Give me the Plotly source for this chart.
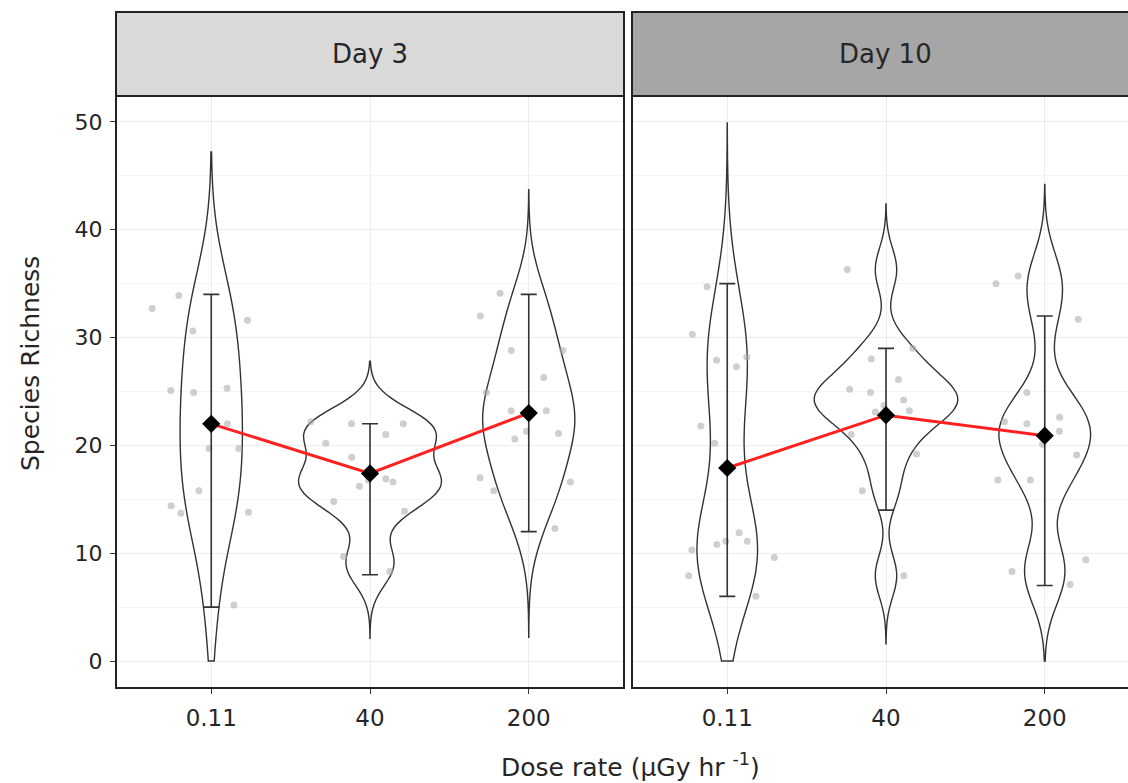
import plotly.graph_objects as go

# ---------------- data ----------------
doses = ["0.11", "40", "200"]
days = ["Day 3", "Day 10"]

# species richness observations per sample
day3_dose011 = [33.9, 32.7, 31.6, 30.6, 25.3, 25.1, 24.9, 22.0, 19.7, 19.7, 15.8, 14.4, 13.8, 13.7, 5.2]
day3_dose40 = [22.2, 22.0, 22.0, 21.0, 20.2, 18.9, 16.9, 16.8, 16.6, 16.2, 14.8, 13.9, 9.7, 8.3]
day3_dose200 = [34.1, 32.0, 28.8, 28.8, 26.3, 24.9, 23.2, 23.2, 21.3, 21.1, 20.6, 17.0, 16.6, 15.8, 12.3]
day10_dose011 = [34.7, 30.3, 28.2, 27.9, 27.3, 21.8, 20.2, 11.9, 11.1, 11.1, 10.8, 10.3, 9.6, 7.9, 6.0]
day10_dose40 = [36.3, 29.0, 28.0, 26.1, 25.2, 24.9, 24.2, 23.7, 23.2, 23.1, 21.0, 19.2, 15.8, 7.9]
day10_dose200 = [35.7, 35.0, 31.7, 24.9, 22.6, 22.2, 22.0, 21.3, 20.1, 19.1, 16.8, 16.8, 9.4, 8.3, 7.1]

# kernel bandwidths and vertical extents of the violins
day3_bandwidth = [5.2, 1.87, 3.2]
day10_bandwidth = [5.1, 2.0, 2.83]
day3_violin_low = [0.0, 2.1, 2.2]
day3_violin_high = [47.2, 27.8, 43.7]
day10_violin_low = [0.0, 1.6, 0.0]
day10_violin_high = [49.9, 42.4, 44.2]

# summary: mean with lower / upper bar
day3_mean = [22.0, 17.4, 23.0]
day3_lower = [5.0, 8.0, 12.0]
day3_upper = [34.0, 22.0, 34.0]
day10_mean = [17.9, 22.8, 20.9]
day10_lower = [6.0, 14.0, 7.0]
day10_upper = [35.0, 29.0, 32.0]

y_ticks = [0, 10, 20, 30, 40, 50]

# ---------------- styling ----------------
FONT = "DejaVu Sans"
TXT = "#262626"
W, H = 1128, 783
ML, MR, MT, MB = 116, 0, 96, 95
plot_w = W - ML - MR
plot_h = H - MT - MB
p1 = (0.0, (624 - ML) / plot_w)
p2 = ((632 - ML) / plot_w, 1.0)
unit_px = (624 - 116) / 3.2
x2_max = -0.6 + (W - 632) / unit_px
strip_h = 84 / plot_h
panel2_extent = (1139.5 - 632) / (W - 632)

fig = go.Figure()

panels = [
    ("x", "y", [day3_dose011, day3_dose40, day3_dose200], day3_bandwidth,
     day3_violin_low, day3_violin_high,
     day3_mean, day3_lower, day3_upper, "d3"),
    ("x2", "y2", [day10_dose011, day10_dose40, day10_dose200], day10_bandwidth,
     day10_violin_low, day10_violin_high,
     day10_mean, day10_lower, day10_upper, "d10"),
]

for xa, ya, groups, bws, vlo, vhi, means, lows, ups, sg in panels:
    for dose, vals, bw, lo, hi in zip(doses, groups, bws, vlo, vhi):
        fig.add_trace(go.Violin(
            x=[dose] * len(vals), y=vals, xaxis=xa, yaxis=ya,
            bandwidth=bw, spanmode="manual", span=[lo, hi],
            scalegroup=sg, scalemode="width",
            points="all", pointpos=0, jitter=0.85,
            marker=dict(color="rgba(175,175,175,0.6)", size=7, line=dict(width=0)),
            line=dict(color="#333333", width=1.4),
            fillcolor="rgba(255,255,255,0)",
            box_visible=False, meanline_visible=False,
            showlegend=False, hoveron="violins+points",
        ))
    fig.add_trace(go.Scatter(
        x=doses, y=means, xaxis=xa, yaxis=ya, mode="lines+markers",
        line=dict(color="#ff2020", width=3),
        marker=dict(symbol="diamond", size=14, color="black"),
        error_y=dict(type="data", symmetric=False,
                     array=[u - m for u, m in zip(ups, means)],
                     arrayminus=[m - l for m, l in zip(means, lows)],
                     color="#333333", thickness=1.6, width=8),
        showlegend=False,
    ))

xcommon = dict(type="category", categoryorder="array", categoryarray=doses,
               showgrid=True, gridcolor="#ececec", gridwidth=1,
               ticks="outside", ticklen=5, tickcolor="#333333", tickwidth=1.2,
               tickfont=dict(family=FONT, size=23, color=TXT),
               ticklabelstandoff=4, showline=False, zeroline=False)
ycommon = dict(range=[-2.5, 52.4], tickvals=y_ticks, showgrid=True,
               gridcolor="#ececec", gridwidth=1, zeroline=False, showline=False,
               minor=dict(dtick=5, tick0=0, showgrid=True, gridcolor="#f5f5f5", gridwidth=1))

fig.update_layout(
    width=W, height=H,
    margin=dict(l=ML, r=MR, t=MT, b=MB),
    paper_bgcolor="white", plot_bgcolor="white",
    violinmode="overlay", violingap=0.1, violingroupgap=0,
    showlegend=False,
    xaxis=dict(domain=list(p1), range=[-0.6, 2.6], anchor="y", **xcommon),
    xaxis2=dict(domain=list(p2), range=[-0.6, x2_max], anchor="y2", **xcommon),
    yaxis=dict(domain=[0, 1], anchor="x", ticks="outside", ticklen=5,
               tickcolor="#333333", tickwidth=1.2, ticklabelstandoff=3,
               tickfont=dict(family=FONT, size=22, color=TXT), **ycommon),
    yaxis2=dict(domain=[0, 1], anchor="x2", matches="y", showticklabels=False,
                ticks="", **ycommon),
)

shapes = []
annotations = []
strip_cols = ["#d9d9d9", "#a6a6a6"]
for i, (xd, yd) in enumerate([("x domain", "y domain"), ("x2 domain", "y2 domain")]):
    x1 = 1.0 if i == 0 else panel2_extent
    shapes.append(dict(type="rect", xref=xd, yref=yd, x0=0, x1=x1, y0=1, y1=1 + strip_h,
                       fillcolor=strip_cols[i], line=dict(color="#222222", width=2), layer="above"))
    shapes.append(dict(type="rect", xref=xd, yref=yd, x0=0, x1=x1, y0=0, y1=1,
                       fillcolor="rgba(0,0,0,0)", line=dict(color="#222222", width=2), layer="above"))
    annotations.append(dict(text=days[i], xref=xd, yref=yd, x=x1 / 2, y=1 + strip_h / 2,
                            showarrow=False, xanchor="center", yanchor="middle",
                            font=dict(family=FONT, size=26, color=TXT)))

annotations.append(dict(text="Species Richness", xref="paper", yref="paper",
                        x=(30 - ML) / plot_w, y=(H - MB - 364) / plot_h, textangle=-90,
                        showarrow=False, xanchor="center", yanchor="middle",
                        font=dict(family=FONT, size=25, color=TXT)))
annotations.append(dict(text="Dose rate (µGy hr <sup>-1</sup>)", xref="paper", yref="paper",
                        x=(630 - ML) / plot_w, y=(H - MB - 765) / plot_h,
                        showarrow=False, xanchor="center", yanchor="middle",
                        font=dict(family=FONT, size=25, color=TXT)))

fig.update_layout(shapes=shapes, annotations=annotations)

fig.write_html("out.html")
